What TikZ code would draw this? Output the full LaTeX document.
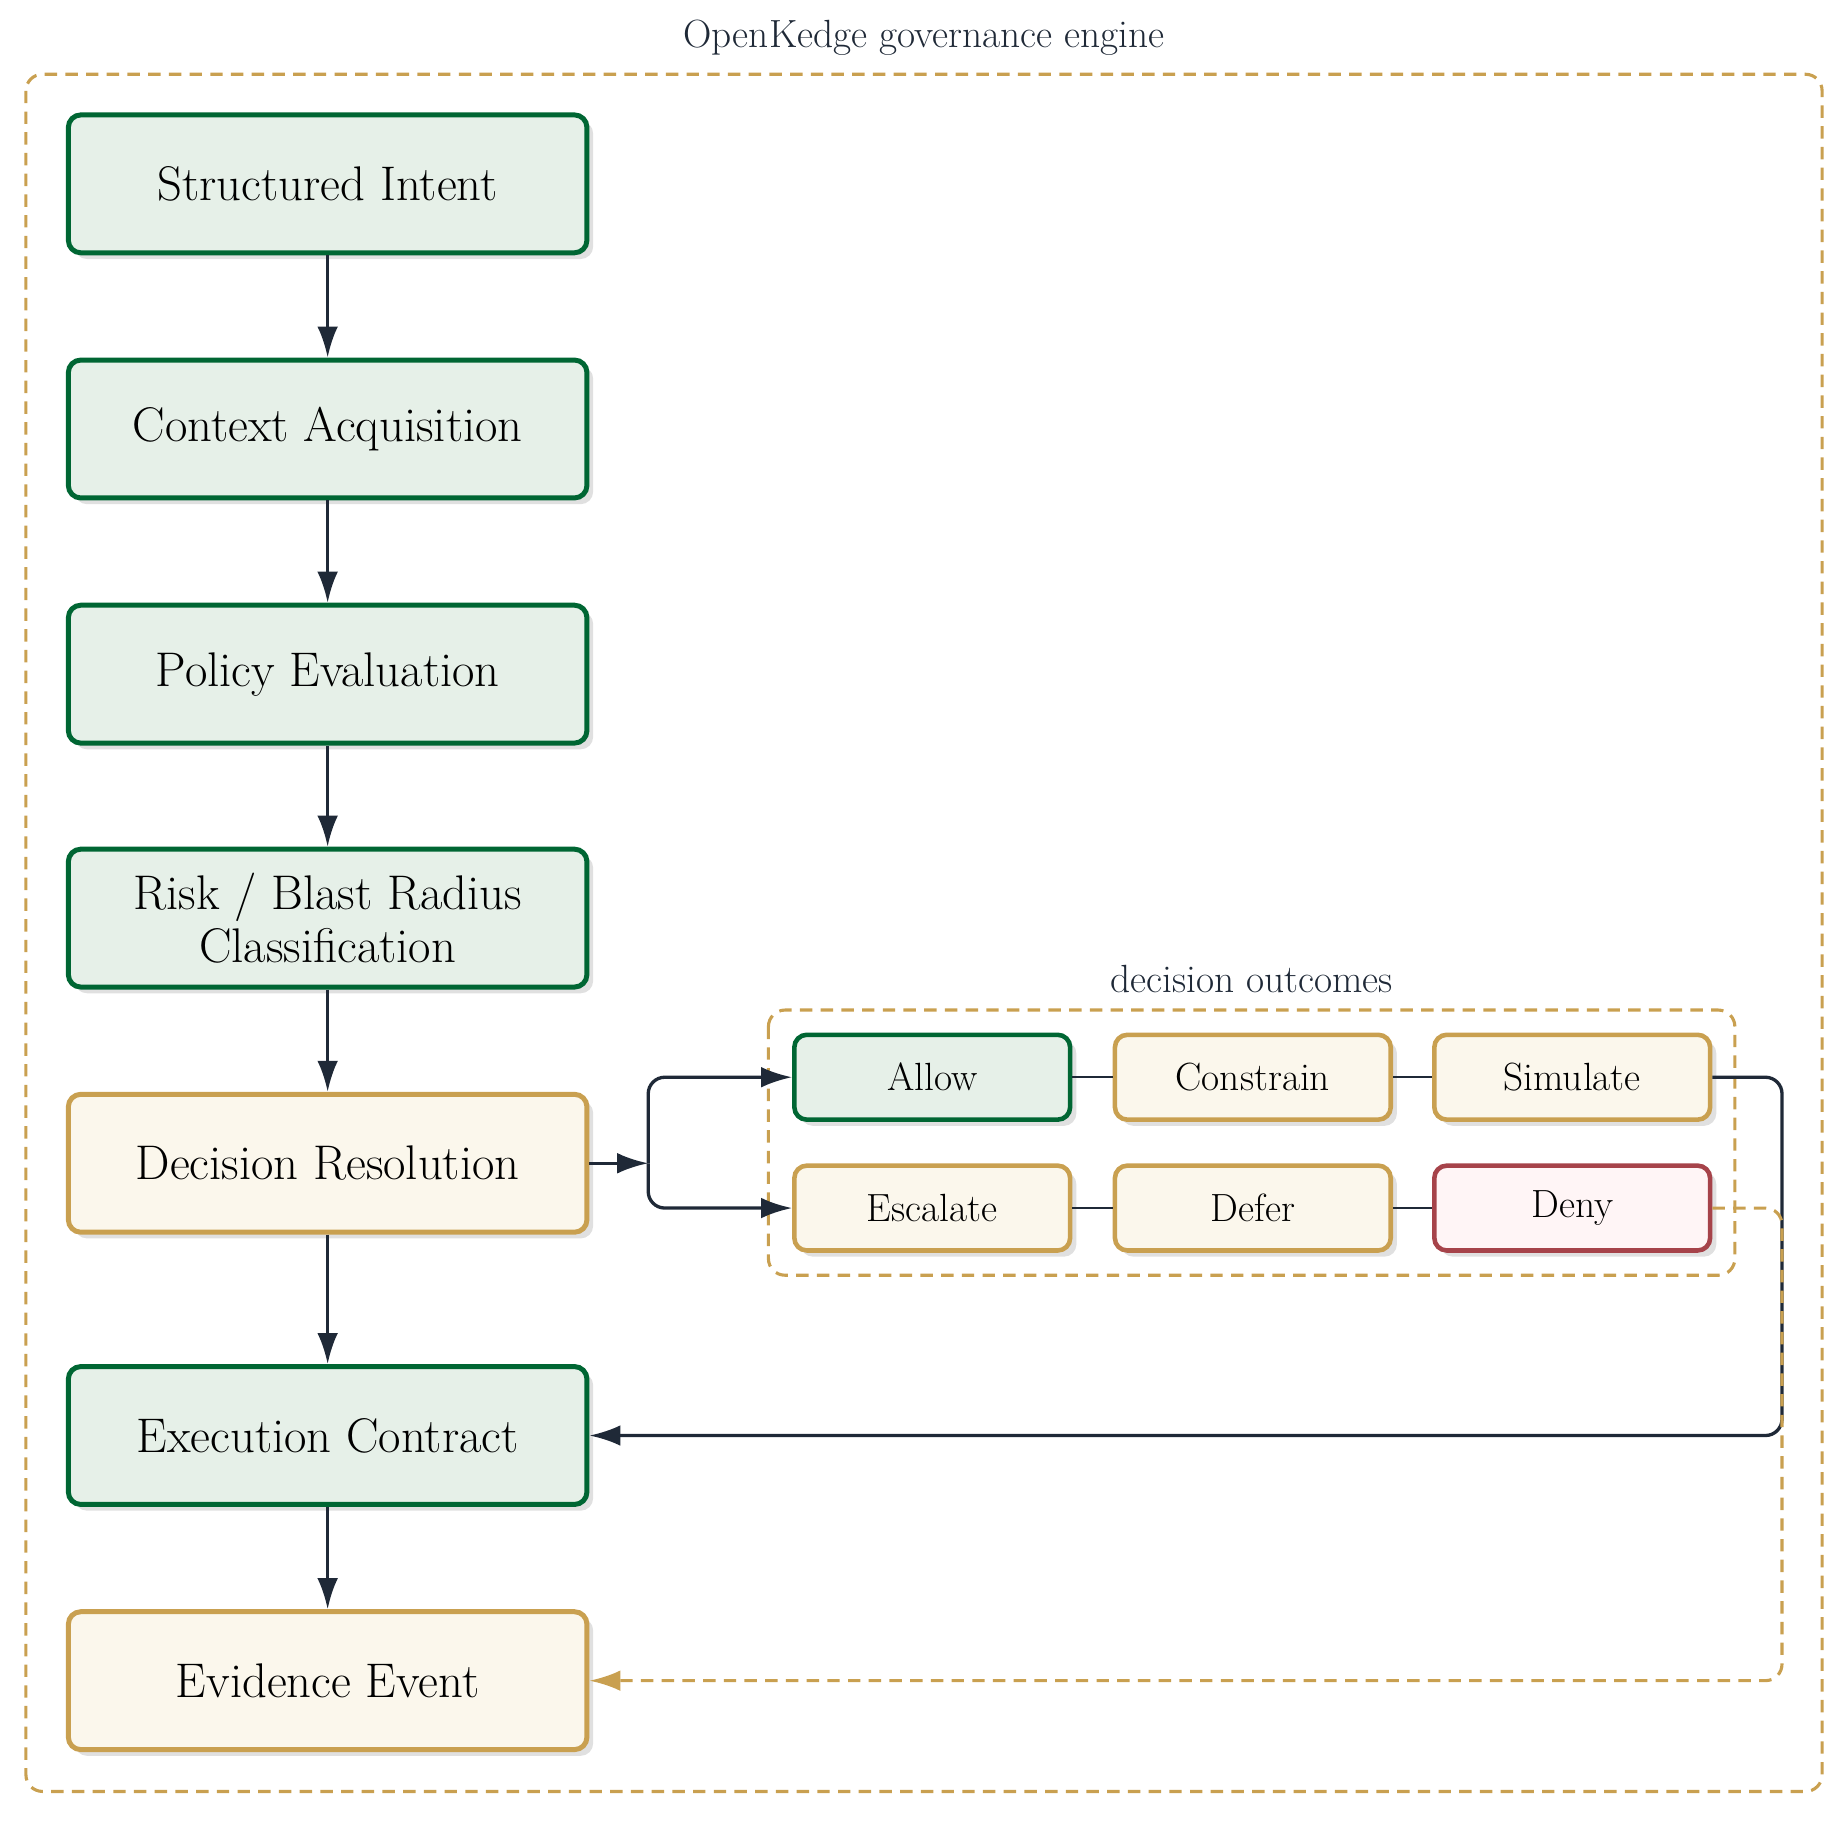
\documentclass[tikz,border=0pt]{standalone}
\usetikzlibrary{arrows.meta,shadows}
\definecolor{grn}{RGB}{0,102,51}
\definecolor{grnf}{RGB}{230,240,232}
\definecolor{gld}{RGB}{201,160,80}
\definecolor{gldf}{RGB}{251,247,236}
\definecolor{rd}{RGB}{166,67,74}
\definecolor{rdf}{RGB}{255,245,246}
\definecolor{ink}{RGB}{31,41,55}
\begin{document}
\begin{tikzpicture}[x=0.02cm,y=-0.02cm,
 box/.style={rounded corners=6pt,line width=2.4pt,minimum width=440*0.02cm,minimum height=117*0.02cm,align=center,font=\fontsize{23.5}{26}\selectfont,drop shadow={shadow xshift=3pt,shadow yshift=-3pt,fill=black!12,opacity=1}},
 sbox/.style={rounded corners=6pt,line width=2.2pt,minimum width=234*0.02cm,minimum height=72*0.02cm,font=\fontsize{19}{21}\selectfont,drop shadow={shadow xshift=3pt,shadow yshift=-3pt,fill=black!12,opacity=1}},
 G/.style={draw=grn,fill=grnf}, Y/.style={draw=gld,fill=gldf}, R/.style={draw=rd,fill=rdf},
 arr/.style={draw=ink,line width=1.6pt,-{Latex[length=15pt,width=10pt]}},
 frame/.style={draw=gld,line width=1.5pt,dash pattern=on 6pt off 4pt,rounded corners=8pt},
 lab/.style={text=ink,font=\fontsize{19}{21}\selectfont}]
\useasboundingbox (0,0) rectangle (1568,1545);
\draw[frame] (22,63) rectangle (1546,1520);
\node[lab] (t1) at (784,32) {OpenKedge governance engine};
\draw[frame] (652,857) rectangle (1472,1082);
\node[lab] (t2) at (1062,831) {decision outcomes};
\node[box,G] (a) at (278,156) {Structured Intent};
\node[box,G] (b) at (278,364) {Context Acquisition};
\node[box,G] (c) at (278,572) {Policy Evaluation};
\node[box,G] (d) at (278,779) {Risk / Blast Radius\\Classification};
\node[box,Y] (e) at (278,987) {Decision Resolution};
\node[box,G] (f) at (278,1218) {Execution Contract};
\node[box,Y] (g) at (278,1426) {Evidence Event};
\node[sbox,G] (al) at (791,914) {Allow};
\node[sbox,Y] (co) at (1063,914) {Constrain};
\node[sbox,Y] (si) at (1334,914) {Simulate};
\node[sbox,Y] (es) at (791,1025) {Escalate};
\node[sbox,Y] (de) at (1063,1025) {Defer};
\node[sbox,R] (dn) at (1334,1025) {Deny};
\foreach \u/\v in {a/b,b/c,c/d,d/e,e/f,f/g} \draw[arr] (\u) -- (\v);
\coordinate (j) at (550,987);
\draw[arr] (e) -- (j);
\draw[arr,rounded corners=8pt] (j) |- (al);
\draw[arr,rounded corners=8pt] (j) |- (es);
\draw[ink,line width=0.9pt] (al)--(co) (co)--(si) (es)--(de) (de)--(dn);
\coordinate (k1) at (1512,914);
\draw[arr,rounded corners=8pt] (si.east) -- (k1) |- (f.east);
\coordinate (k2) at (1512,1025);
\draw[draw=gld,line width=1.5pt,dash pattern=on 6pt off 4pt,rounded corners=8pt,-{Latex[length=15pt,width=10pt]}] (dn.east) -- (k2) |- (g.east);
\end{tikzpicture}
\end{document}
